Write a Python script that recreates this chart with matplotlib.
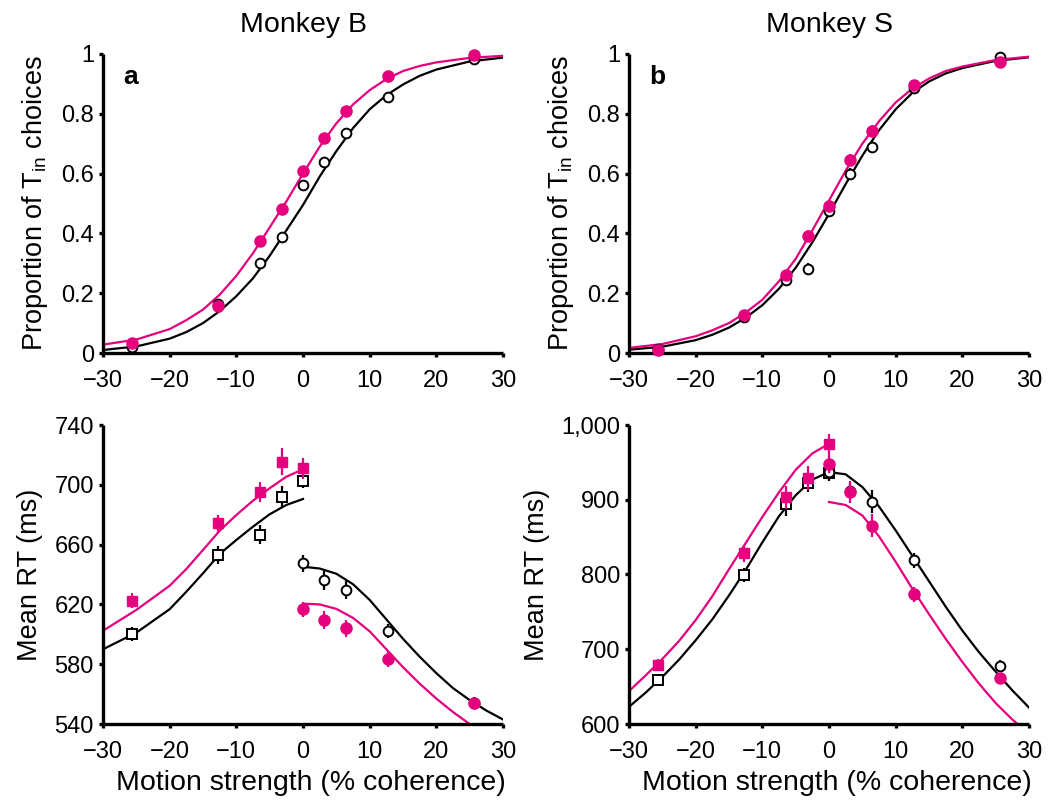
import numpy as np
import matplotlib
matplotlib.use("Agg")
import matplotlib.pyplot as plt

plt.rcParams['font.family'] = ['Liberation Sans', 'DejaVu Sans']

MAG = '#e5007d'

# coherence levels
coh = [-25.6, -12.8, -6.4, -3.2, 0, 3.2, 6.4, 12.8, 25.6]
coh_neg = [-25.6, -12.8, -6.4, -3.2, 0]
coh_pos = [0, 3.2, 6.4, 12.8, 25.6]

# --- proportion of Tin choices (points) ---
pB_mag = [0.033, 0.158, 0.376, 0.482, 0.608, 0.72, 0.81, 0.928, 0.997]
pB_blk = [0.02, 0.165, 0.30, 0.388, 0.562, 0.64, 0.737, 0.857, 0.982]
pB_err = [0.005, 0.012, 0.016, 0.016, 0.016, 0.016, 0.014, 0.01, 0.004]
pS_mag = [0.009, 0.128, 0.26, 0.39, 0.493, 0.644, 0.743, 0.896, 0.974]
pS_blk = [0.015, 0.12, 0.243, 0.282, 0.475, 0.598, 0.69, 0.885, 0.991]
pS_err = [0.005, 0.012, 0.018, 0.02, 0.018, 0.02, 0.02, 0.01, 0.004]

# fitted curves
x_fit = [-30, -25, -20, -17.5, -15, -12.5, -10, -7.5, -5, -2.5, 0,
         2.5, 5, 7.5, 10, 12.5, 15, 17.5, 20, 25, 30]
fB_mag = [0.028, 0.045, 0.08, 0.11, 0.145, 0.195, 0.258, 0.334, 0.42, 0.507, 0.60,
          0.69, 0.768, 0.831, 0.879, 0.916, 0.943, 0.96, 0.972, 0.987, 0.994]
fB_blk = [0.010, 0.022, 0.048, 0.07, 0.10, 0.14, 0.19, 0.25, 0.325, 0.41, 0.495,
          0.59, 0.675, 0.752, 0.815, 0.862, 0.898, 0.927, 0.948, 0.975, 0.988]
fS_mag = [0.017, 0.03, 0.056, 0.076, 0.10, 0.135, 0.178, 0.24, 0.315, 0.41, 0.51,
          0.61, 0.70, 0.775, 0.838, 0.884, 0.918, 0.943, 0.958, 0.98, 0.991]
fS_blk = [0.011, 0.021, 0.043, 0.061, 0.085, 0.118, 0.16, 0.215, 0.285, 0.37, 0.465,
          0.565, 0.66, 0.745, 0.815, 0.87, 0.908, 0.935, 0.953, 0.977, 0.989]

# --- mean RT, monkey B ---
rtB_neg_mag = [622.3, 674.2, 695.2, 715.3, 711]
rtB_neg_mag_err = [5, 5.5, 7, 9, 7]
rtB_neg_blk = [600.2, 652.8, 666.6, 691.8, 702.8]
rtB_neg_blk_err = [5, 6, 6.5, 7.5, 5]
rtB_pos_blk = [647.5, 636.1, 629.4, 602.2, 553.8]
rtB_pos_blk_err = [5.5, 6.5, 6, 5, 4]
rtB_pos_mag = [616.9, 609.3, 604, 583.3, 554.3]
rtB_pos_mag_err = [5, 6, 5.5, 5.5, 3]

xB_left = [-30, -25, -20, -17.5, -15, -12.5, -10, -7.5, -5, -2.5, 0]
fB_left_mag = [602.4, 616.3, 632.5, 643.7, 656.4, 669.3, 679.8, 689.4, 697.7, 705.4, 710.4]
fB_left_blk = [590, 601.1, 616.8, 628.5, 640.8, 653.7, 663.1, 672, 680.3, 686.5, 690.5]
xB_right = [0, 2.5, 5, 7.5, 10, 12.5, 15, 17.5, 20, 22.5, 25, 27.5, 30]
fB_right_blk = [645.2, 644, 640.5, 633.5, 623, 610, 597, 585, 574, 564, 556, 549, 543]
fB_right_mag = [620.5, 620, 617, 611, 602, 590, 578, 567, 557, 548, 540, 532, 524]

# --- mean RT, monkey S ---
rtS_neg_mag = [679, 828.3, 903.2, 928.7, 974.4]
rtS_neg_mag_err = [7.5, 11, 15, 16, 14]
rtS_neg_blk = [658.9, 799.3, 893.9, 922, 935.3]
rtS_neg_blk_err = [6, 9, 15, 12, 10]
rtS_pos_mag = [947.8, 910, 865.3, 773.5, 662]
rtS_pos_mag_err = [12, 15, 15, 10, 5]
rtS_pos_blk = [936.7, 912, 897.4, 819, 677.6]
rtS_pos_blk_err = [10, 10, 15, 10, 8]

xS_left = [-30, -27.5, -25, -22.5, -20, -17.5, -15, -12.5, -10, -7.5, -5, -2.5, 0]
fS_left_mag = [644, 665, 687, 711, 739, 771, 807, 842, 877, 910, 940, 962, 975]
xS_all = [-30, -27.5, -25, -22.5, -20, -17.5, -15, -12.5, -10, -7.5, -5, -2.5, 0,
          2.5, 5, 7.5, 10, 12.5, 15, 17.5, 20, 22.5, 25, 27.5, 30]
fS_all_blk = [623, 642, 663, 686, 712, 740, 772, 806, 843, 878, 906, 927, 937,
              934, 917, 891, 859, 825, 791, 757, 725, 696, 670, 645, 622]
xS_right = [0, 2.5, 5, 7.5, 10, 12.5, 15, 17.5, 20, 22.5, 25, 27.5, 30]
fS_right_mag = [897, 893, 879, 851, 817, 781, 747, 714, 683, 654, 628, 606, 587]


def style(ax, ylim, yticks, yticklabels):
    ax.set_xlim(-30, 30)
    ax.set_ylim(*ylim)
    ax.spines['top'].set_visible(False)
    ax.spines['right'].set_visible(False)
    for s in ('left', 'bottom'):
        ax.spines[s].set_linewidth(2.4)
        ax.spines[s].set_capstyle('butt')
    ax.set_xticks(range(-30, 31, 10))
    ax.set_yticks(yticks)
    ax.set_yticklabels(yticklabels)
    ax.tick_params(direction='out', length=3, width=2.4, labelsize=17)
    ax.tick_params(axis='x', pad=9.5)
    ax.tick_params(axis='y', pad=3.5)
    ax.patch.set_visible(False)


def open_marker(ax, x, y, err, marker, ms):
    ax.errorbar(x, y, yerr=err, fmt=marker, ms=ms, mfc='white', mec='black',
                mew=1.4, ecolor='black', elinewidth=1.6, capsize=0, clip_on=False, zorder=3)


def fill_marker(ax, x, y, err, marker, ms):
    ax.errorbar(x, y, yerr=err, fmt=marker, ms=ms, mfc=MAG, mec=MAG,
                ecolor=MAG, elinewidth=1.6, capsize=0, clip_on=False, zorder=4)


fig = plt.figure(figsize=(10.5, 8.05), dpi=100)
W, H = 1050, 805
left_a, left_b, width = 103 / W, 629 / W, 400 / W
top_bottom, bot_bottom, height = 1 - 353 / H, 1 - 724 / H, 299 / H

ax1 = fig.add_axes([left_a, top_bottom, width, height])
ax2 = fig.add_axes([left_b, top_bottom, width, height])
ax3 = fig.add_axes([left_a, bot_bottom, width, height])
ax4 = fig.add_axes([left_b, bot_bottom, width, height])

ptick = [0, 0.2, 0.4, 0.6, 0.8, 1]
plab = ['0', '0.2', '0.4', '0.6', '0.8', '1']
ylab_p = 'Proportion of T$_\\mathregular{in}$ choices'

# panel a
ax1.plot(x_fit, fB_blk, color='black', lw=1.6, zorder=2)
ax1.plot(x_fit, fB_mag, color=MAG, lw=1.6, zorder=2)
open_marker(ax1, coh, pB_blk, pB_err, 'o', 7)
fill_marker(ax1, coh, pB_mag, pB_err, 'o', 8)
style(ax1, (0, 1), ptick, plab)
ax1.set_ylabel(ylab_p, fontsize=19.5, labelpad=8)
ax1.set_title('Monkey B', fontsize=20.5, pad=16)
ax1.text(0.05, 0.9, 'a', transform=ax1.transAxes, fontsize=19, fontweight='bold')

# panel b
ax2.plot(x_fit, fS_blk, color='black', lw=1.6, zorder=2)
ax2.plot(x_fit, fS_mag, color=MAG, lw=1.6, zorder=2)
open_marker(ax2, coh, pS_blk, pS_err, 'o', 7)
fill_marker(ax2, coh, pS_mag, pS_err, 'o', 8)
style(ax2, (0, 1), ptick, plab)
ax2.set_ylabel(ylab_p, fontsize=19.5, labelpad=8)
ax2.set_title('Monkey S', fontsize=20.5, pad=16)
ax2.text(0.05, 0.9, 'b', transform=ax2.transAxes, fontsize=19, fontweight='bold')

# RT monkey B
ax3.plot(xB_left, fB_left_blk, color='black', lw=1.6, zorder=2)
ax3.plot(xB_left, fB_left_mag, color=MAG, lw=1.6, zorder=2)
ax3.plot(xB_right, fB_right_blk, color='black', lw=1.6, zorder=2)
ax3.plot(xB_right, fB_right_mag, color=MAG, lw=1.6, zorder=2)
open_marker(ax3, coh_neg, rtB_neg_blk, rtB_neg_blk_err, 's', 6.5)
fill_marker(ax3, coh_neg, rtB_neg_mag, rtB_neg_mag_err, 's', 7)
open_marker(ax3, coh_pos, rtB_pos_blk, rtB_pos_blk_err, 'o', 7)
fill_marker(ax3, coh_pos, rtB_pos_mag, rtB_pos_mag_err, 'o', 8)
style(ax3, (540, 740), range(540, 741, 40), [str(v) for v in range(540, 741, 40)])
ax3.set_ylabel('Mean RT (ms)', fontsize=19.5, labelpad=8)
ax3.set_xlabel('Motion strength (% coherence)', fontsize=20.5, labelpad=3)
ax3.xaxis.set_label_coords(0.52, -0.155)

# RT monkey S
ax4.plot(xS_all, fS_all_blk, color='black', lw=1.6, zorder=2)
ax4.plot(xS_left, fS_left_mag, color=MAG, lw=1.6, zorder=2)
ax4.plot(xS_right, fS_right_mag, color=MAG, lw=1.6, zorder=2)
fill_marker(ax4, coh_neg, rtS_neg_mag, rtS_neg_mag_err, 's', 7)
open_marker(ax4, coh_neg, rtS_neg_blk, rtS_neg_blk_err, 's', 6.5)
fill_marker(ax4, coh_pos, rtS_pos_mag, rtS_pos_mag_err, 'o', 8)
open_marker(ax4, coh_pos, rtS_pos_blk, rtS_pos_blk_err, 'o', 7)
style(ax4, (600, 1000), [600, 700, 800, 900, 1000], ['600', '700', '800', '900', '1,000'])
ax4.set_ylabel('Mean RT (ms)', fontsize=19.5, labelpad=8)
ax4.set_xlabel('Motion strength (% coherence)', fontsize=20.5, labelpad=3)
ax4.xaxis.set_label_coords(0.52, -0.155)

fig.savefig('out.png', dpi=100)
